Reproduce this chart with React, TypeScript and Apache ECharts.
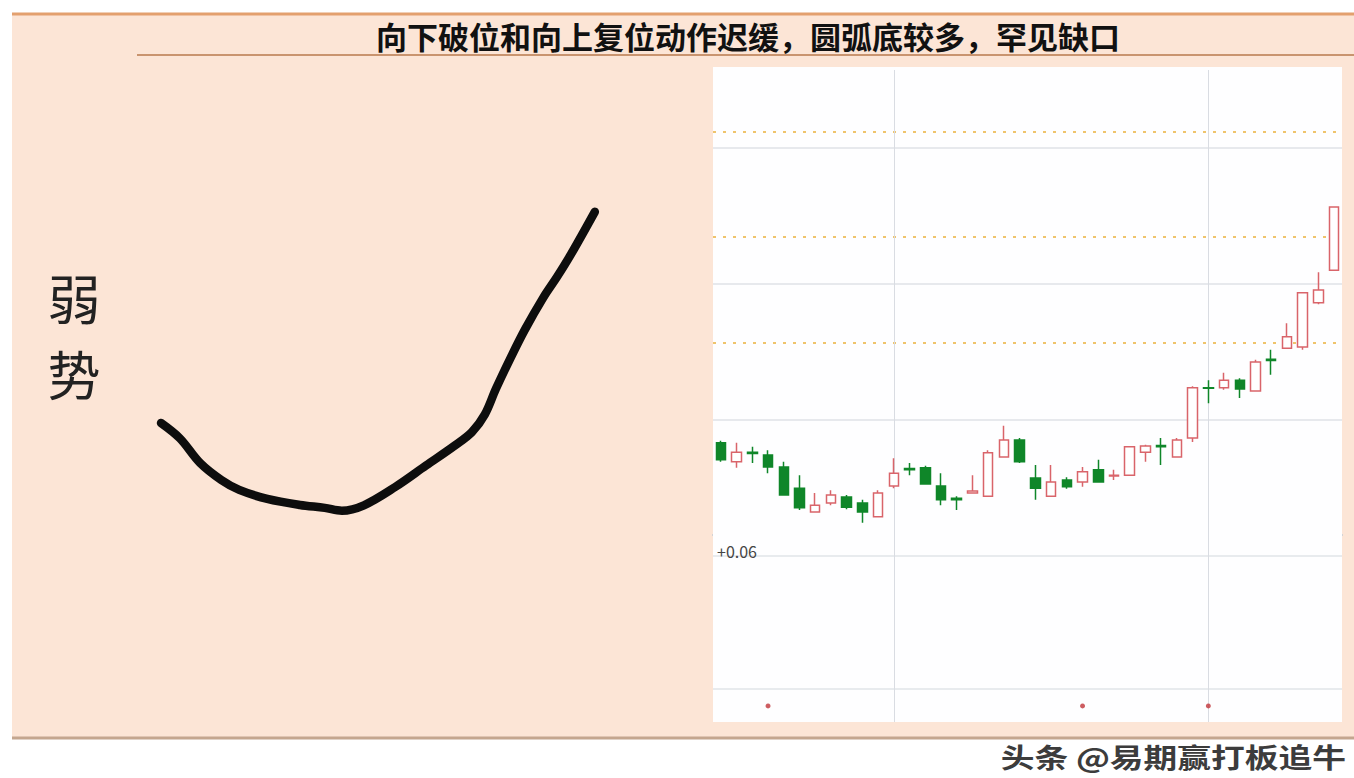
import React, { useEffect, useRef } from "react";
import * as echarts from "echarts";

// ---- data ----
const days = [
  "1", "2", "3", "4", "5", "6", "7", "8", "9", "10",
  "11", "12", "13", "14", "15", "16", "17", "18", "19", "20",
  "21", "22", "23", "24", "25", "26", "27", "28", "29", "30",
  "31", "32", "33", "34", "35", "36", "37", "38", "39", "40",
];

// [open, close, low, high]
const candles: number[][] = [
  [9.66, 9.41, 9.38, 9.69],
  [9.38, 9.52, 9.29, 9.66],
  [9.52, 9.5, 9.36, 9.6],
  [9.48, 9.3, 9.21, 9.55],
  [9.3, 8.89, 8.88, 9.38],
  [8.99, 8.7, 8.67, 9.18],
  [8.64, 8.74, 8.63, 8.92],
  [8.77, 8.89, 8.74, 8.96],
  [8.86, 8.71, 8.68, 8.89],
  [8.77, 8.64, 8.48, 8.82],
  [8.57, 8.92, 8.56, 8.96],
  [9.02, 9.21, 8.99, 9.43],
  [9.28, 9.26, 9.18, 9.36],
  [9.29, 9.05, 9.04, 9.32],
  [9.02, 8.82, 8.74, 9.21],
  [8.84, 8.82, 8.67, 8.87],
  [8.92, 8.95, 8.91, 9.18],
  [8.87, 9.51, 8.86, 9.55],
  [9.45, 9.7, 9.44, 9.91],
  [9.7, 9.38, 9.36, 9.73],
  [9.14, 8.99, 8.82, 9.33],
  [8.87, 9.08, 8.86, 9.33],
  [9.11, 9.01, 8.98, 9.15],
  [9.08, 9.23, 9.01, 9.3],
  [9.26, 9.08, 9.07, 9.41],
  [9.17, 9.18, 9.11, 9.26],
  [9.18, 9.6, 9.17, 9.61],
  [9.52, 9.61, 9.38, 9.63],
  [9.62, 9.6, 9.33, 9.73],
  [9.45, 9.7, 9.44, 9.73],
  [9.73, 10.47, 9.67, 10.49],
  [10.47, 10.46, 10.24, 10.58],
  [10.47, 10.58, 10.44, 10.69],
  [10.58, 10.45, 10.32, 10.61],
  [10.42, 10.85, 10.41, 10.88],
  [10.89, 10.87, 10.66, 11.03],
  [11.05, 11.22, 11.04, 11.42],
  [11.07, 11.87, 11.03, 11.88],
  [11.72, 11.91, 11.7, 12.17],
  [12.2, 13.13, 12.2, 13.14],
];

const priceMin = 8.3;
const priceMax = 15.15;
const gridLevels = [10, 12, 14];
const dottedLevels = [11.13, 12.69, 14.24];
const dividerDays = ["12", "32"];

const indicatorLevels = [0.893, 0.182];
const signalDays = ["4", "24", "32"];
const signalLevel = 0.086;
const indicatorLabel = "+0.06";

// hand-drawn arc (abstract units 0..100)
const sketchCurve: number[][] = [
  [2.4, 30.3], [6.5, 25.5], [10.9, 17.8], [15.5, 12.5], [19.4, 9.4],
  [25.5, 6.6], [32.6, 4.7], [38, 3.8], [41.7, 2.9], [46.5, 4.6],
  [53.3, 10.3], [60, 17], [66.5, 23.5], [70, 27.5], [72.8, 33],
  [75.2, 41], [78.5, 51], [81.5, 59.5], [85.5, 69.5], [88.5, 76],
  [91.5, 83], [96.7, 96.3],
];

const titleText = "向下破位和向上复位动作迟缓，圆弧底较多，罕见缺口";
const sideText = ["弱", "势"];
const watermark = "头条 @易期赢打板追牛";

const FONT = '"Noto Sans CJK SC", "Noto Sans", sans-serif';

export default function App() {
  const ref = useRef<HTMLDivElement>(null);

  useEffect(() => {
    document.body.style.margin = "0";
    const chart = echarts.init(ref.current!, null, { renderer: "svg" });

    const red = "#d9646a";
    const green = "#0f8629";

    const option: any = {
      animation: false,
      backgroundColor: "#ffffff",
      textStyle: { fontFamily: FONT },
      graphic: [
        { type: "rect", z: 0, shape: { x: 12, y: 13, width: 1342, height: 725 }, style: { fill: "#fce5d6" } },
        { type: "line", z: 1, shape: { x1: 12, y1: 14, x2: 1354, y2: 14 }, style: { stroke: "#e3a06e", lineWidth: 3 } },
        { type: "line", z: 1, shape: { x1: 137, y1: 55, x2: 1354, y2: 55 }, style: { stroke: "#c9946f", lineWidth: 2 } },
        { type: "line", z: 1, shape: { x1: 12, y1: 738, x2: 1354, y2: 738 }, style: { stroke: "#c4a68f", lineWidth: 3 } },
        { type: "rect", z: 1, shape: { x: 713, y: 67, width: 629, height: 655 }, style: { fill: "#fefeff" } },
        {
          type: "text", z: 10, x: 748, y: 35,
          style: { text: titleText, fontSize: 31, fontWeight: "bold", fill: "#111", align: "center", verticalAlign: "middle", fontFamily: FONT },
        },
        {
          type: "text", z: 10, x: 74, y: 297,
          style: { text: sideText[0], fontSize: 53, fill: "#222", align: "center", verticalAlign: "middle", fontFamily: FONT },
        },
        {
          type: "text", z: 10, x: 74, y: 373,
          style: { text: sideText[1], fontSize: 53, fill: "#222", align: "center", verticalAlign: "middle", fontFamily: FONT },
        },
        {
          type: "text", z: 10, x: 717, y: 551,
          style: { text: indicatorLabel, fontSize: 16, fill: "#444", align: "left", verticalAlign: "middle", fontFamily: FONT },
        },
        {
          type: "text", z: 10, x: 1346, y: 757, scaleX: 1.25,
          style: { text: watermark, fontSize: 27, fontWeight: "bold", fill: "#3c3c3c", align: "right", verticalAlign: "middle", fontFamily: FONT, stroke: "#ffffff", lineWidth: 2 },
        },
      ],
      grid: [
        { left: 713, width: 629, top: 70, height: 465 },
        { left: 713, width: 629, top: 535, height: 187 },
        { left: 150, width: 460, top: 200, height: 320 },
      ],
      xAxis: [
        {
          type: "category", gridIndex: 0, data: days, boundaryGap: true,
          axisLine: { show: true, lineStyle: { color: "#c9cdd3", width: 2 } },
          axisTick: { show: false }, axisLabel: { show: false }, splitLine: { show: false },
        },
        {
          type: "category", gridIndex: 1, data: days, boundaryGap: true,
          axisLine: { show: false }, axisTick: { show: false }, axisLabel: { show: false }, splitLine: { show: false },
        },
        { type: "value", gridIndex: 2, min: 0, max: 100, show: false },
      ],
      yAxis: [
        { type: "value", gridIndex: 0, min: priceMin, max: priceMax, show: false, splitLine: { show: false } },
        { type: "value", gridIndex: 1, min: 0, max: 1, show: false, splitLine: { show: false } },
        { type: "value", gridIndex: 2, min: 0, max: 100, show: false },
      ],
      series: [
        {
          type: "candlestick",
          xAxisIndex: 0, yAxisIndex: 0,
          z: 5,
          barWidth: 10,
          data: candles,
          itemStyle: {
            color: "#ffffff",
            color0: green,
            borderColor: red,
            borderColor0: green,
            borderWidth: 1.5,
          },
          markLine: {
            silent: true,
            symbol: ["none", "none"],
            label: { show: false },
            z: 3,
            data: [
              ...gridLevels.map((v) => ({ yAxis: v, lineStyle: { color: "#dfe2e7", width: 1.5, type: "solid" } })),
              ...dottedLevels.map((v) => ({ yAxis: v, lineStyle: { color: "#efc46c", width: 2, type: [3, 7] } })),
              ...dividerDays.map((d) => ({ xAxis: d, lineStyle: { color: "#d9dce2", width: 1, type: "solid" } })),
            ],
          },
        },
        {
          type: "scatter",
          xAxisIndex: 1, yAxisIndex: 1,
          z: 5,
          symbolSize: 5,
          itemStyle: { color: "#c0353a" },
          data: signalDays.map((d) => [d, signalLevel]),
          markLine: {
            silent: true,
            symbol: ["none", "none"],
            label: { show: false },
            z: 3,
            data: [
              ...indicatorLevels.map((v) => ({ yAxis: v, lineStyle: { color: "#e1e4e9", width: 1.5, type: "solid" } })),
              ...dividerDays.map((d) => ({ xAxis: d, lineStyle: { color: "#d9dce2", width: 1, type: "solid" } })),
            ],
          },
        },
        {
          type: "line",
          xAxisIndex: 2, yAxisIndex: 2,
          z: 5,
          smooth: 0.35,
          symbol: "none",
          data: sketchCurve,
          lineStyle: { color: "#0d0d0d", width: 8.5, cap: "round", join: "round" },
        },
      ],
    };

    chart.setOption(option);
    return () => chart.dispose();
  }, []);

  return (
    <div
      ref={ref}
      style={{ position: "fixed", left: 0, top: 0, width: 1354, height: 778 }}
    />
  );
}
